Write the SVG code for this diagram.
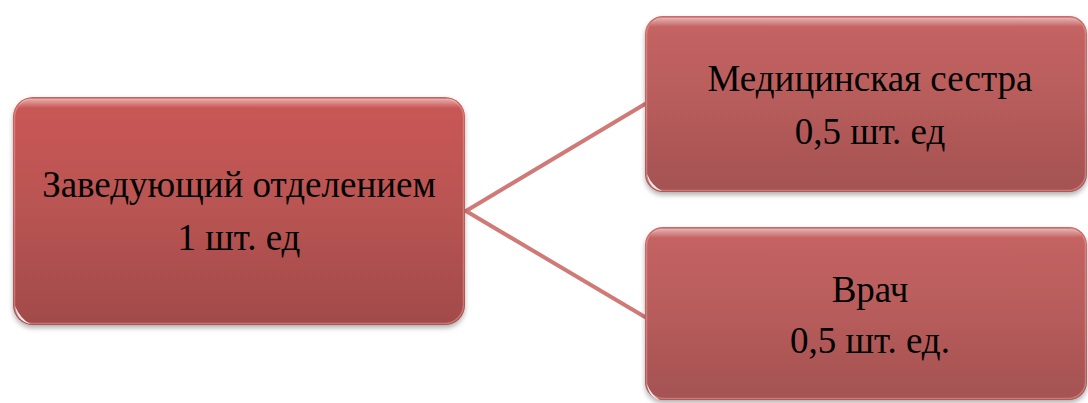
<svg xmlns="http://www.w3.org/2000/svg" width="1088" height="403" viewBox="0 0 1088 403">
<style>
.box{fill:url(#g);filter:url(#sh)}
.box2{fill:url(#g2);filter:url(#sh)}
.rim{fill:none;stroke:#e79a98;stroke-opacity:0.55;stroke-width:1.5}
.hl{fill:url(#hl)}
.dot{fill:#fff;fill-opacity:0.85}
.t{font-family:"Liberation Serif","Times New Roman",serif;font-size:37px;fill:#000;text-anchor:middle}
.c{stroke:#d07a78;stroke-width:4;fill:none;stroke-linecap:round}
</style>
<defs>
<linearGradient id="g" x1="0" y1="0" x2="0" y2="1">
<stop offset="0" stop-color="#ca5856"/>
<stop offset="0.5" stop-color="#b85452"/>
<stop offset="1" stop-color="#a24a4a"/>
</linearGradient>
<linearGradient id="g2" x1="0" y1="0" x2="0" y2="1">
<stop offset="0" stop-color="#c66463"/>
<stop offset="0.5" stop-color="#b75c5b"/>
<stop offset="1" stop-color="#a45252"/>
</linearGradient>
<linearGradient id="hl" x1="0" y1="0" x2="0" y2="1">
<stop offset="0" stop-color="#ffffff" stop-opacity="0.5"/>
<stop offset="1" stop-color="#ffffff" stop-opacity="0"/>
</linearGradient>
<filter id="sh" x="-5%" y="-5%" width="110%" height="115%">
<feDropShadow dx="0" dy="3" stdDeviation="2.5" flood-color="#000" flood-opacity="0.3"/>
</filter>
</defs>
<rect width="1088" height="403" fill="#fff"/>
<g id="connectors">
<path class="c" d="M466 211 L645 104"/>
<path class="c" d="M466 211 L645 317"/>
</g>
<g id="node-head">
<rect class="box" x="13" y="97" width="452" height="228" rx="20"/>
<rect class="rim" x="14.5" y="98.5" width="449" height="225" rx="19"/>
<path class="hl" d="M30 99 H448 Q458 99 460 108 H18 Q20 99 30 99 Z"/>
<path class="dot" d="M15 306 Q17 321 30 324 Q20 318 15 306 Z"/>
<text class="t" x="239" y="197">Заведующий отделением</text>
<text class="t" x="239" y="250">1 шт. ед</text>
</g>
<g id="node-nurse">
<rect class="box2" x="645" y="16" width="442" height="176" rx="18"/>
<rect class="rim" x="646.5" y="17.5" width="439" height="173" rx="17"/>
<path class="hl" d="M662 18 H1070 Q1080 18 1082 27 H650 Q652 18 662 18 Z"/>
<path class="dot" d="M647 174 Q649 189 662 191 Q652 186 647 174 Z"/>
<text class="t" x="870" y="91">Медицинская сестра</text>
<text class="t" x="870" y="144">0,5 шт. ед</text>
</g>
<g id="node-doctor">
<rect class="box2" x="645" y="227" width="442" height="173" rx="18"/>
<rect class="rim" x="646.5" y="228.5" width="439" height="170" rx="17"/>
<path class="hl" d="M662 229 H1070 Q1080 229 1082 238 H650 Q652 229 662 229 Z"/>
<path class="dot" d="M647 384 Q649 398 660 400 Q651 395 647 384 Z"/>
<text class="t" x="870" y="302">Врач</text>
<text class="t" x="870" y="353">0,5 шт. ед.</text>
</g>
</svg>
